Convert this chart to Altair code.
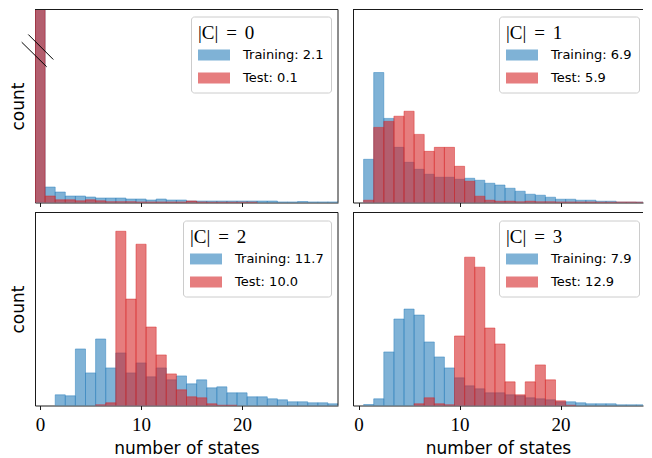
import altair as alt
import pandas as pd

# ---- data (bin centres 0..29, bar heights in relative count units) ----
bins = list(range(30))

c0_train = [600, 15.5, 10.5, 6.5, 6.5, 5.5, 4.5, 4.5, 4.5, 3.5, 3.5, 2.5, 3.5, 2.5, 2.5,
            1.5, 1.5, 1.5, 1.5, 1.5, 1.5, 1.5, 1.5, 1.5, 0.6, 0.6, 1.0, 0.6, 0.6, 0.6]
c0_test = [600, 6.5, 2.7, 2.7, 1.7, 2.7, 1.7, 0.8, 0.8, 0.8, 0.5, 0.5, 0.5, 0.5, 0.5,
           1.5, 0.5, 0.3, 0.3, 0.3, 0.3, 0.3, 0, 0, 0, 0, 0, 0, 0, 0]

c1_train = [0, 43.3, 130.3, 84.3, 55.3, 40.3, 33.3, 28.3, 25.3, 25.3, 23.3, 24.3, 22.3, 19.3, 17.5,
            14.3, 11.3, 8.3, 7.3, 5.3, 3.3, 3.3, 2.3, 2.3, 1.3, 1.3, 0.4, 0.4, 0.4, 0.4]
c1_test = [0, 2.3, 75.3, 81.3, 86.5, 91.5, 68.3, 51.3, 55.3, 55.3, 36.3, 21.3, 6.3, 2.3, 1.3,
           1.3, 0.7, 1.3, 0.7, 0.7, 0.5, 0.5, 0.5, 0.5, 0.3, 0.3, 0.5, 0.5, 0.3, 0.3]

c2_train = [0, 0, 10.7, 9.7, 56.7, 32.7, 66.7, 37.7, 52.7, 32.7, 42.7, 28.7, 37.7, 25.7, 29.7,
            21.7, 25.7, 17.7, 18.7, 12.7, 12.7, 8.7, 8.7, 6.7, 5.7, 3.7, 3.7, 2.7, 2.7, 1.7]
c2_test = [0, 0, 0, 0, 0, 0, 0.7, 2.7, 174.7, 106.7, 161.7, 78.7, 50.7, 31.7, 15.7,
           8.7, 7.7, 1.7, 0.3, 0.3, 0, 0, 0, 0, 0, 0, 0, 0, 0, 0]

c3_train = [0, 1.0, 6.7, 53.7, 86.7, 96.7, 90.7, 63.7, 48.7, 37.7, 27.7, 19.7, 16.7, 12.7, 12.7,
            10.7, 9.7, 7.7, 6.7, 5.7, 3.7, 3.7, 2.7, 1.7, 1.7, 1.7, 0.7, 0.7, 0.7, 0.7]
c3_test = [0, 0, 0, 0, 0, 0, 1.7, 7.7, 1.7, 0.7, 69.7, 148.7, 138.7, 77.7, 61.7,
           23.7, 10.7, 23.7, 40.7, 25.7, 4.7, 0.3, 0, 0, 0, 0, 0, 0, 0, 0]

train_labels = ["Training: 2.1", "Training: 6.9", "Training: 11.7", "Training: 7.9"]
test_labels = ["Test: 0.1", "Test: 5.9", "Test: 10.0", "Test: 12.9"]
SP = "\u2004\u200a"
panel_titles = [f"|C|{SP}={SP}{k}" for k in range(4)]
x_ticks = [0, 10, 20]

train_series = [c0_train, c1_train, c2_train, c3_train]
test_series = [c0_test, c1_test, c2_test, c3_test]

BLUE = "#2a7fbb"
RED = "#d62728"
AX = "#1a1a1a"
SANS = "DejaVu Sans"
SERIF = "Liberation Serif"
PATCH = "M-1,-0.34H1V0.34H-1Z"

rows = []
for p in range(4):
    for lab, vals in ((train_labels[p], train_series[p]), (test_labels[p], test_series[p])):
        for b, v in zip(bins, vals):
            if v > 0:
                rows.append({"panel": p, "series": lab, "lo": b - 0.5, "hi": b + 0.5, "count": v})
df = pd.DataFrame(rows)
one = pd.DataFrame({"k": [0]})

H = 193
legend_pos = [(156, 7), (146, 7), (148, 8), (146, 8)]


def panel(p):
    left = p % 2 == 0
    bottom = p >= 2
    W = 303 if left else 290
    dom = [-0.5, 29.5] if left else [-0.55, 28.16]
    d = df[df.panel == p]
    cscale = alt.Scale(domain=[train_labels[p], test_labels[p]], range=[BLUE, RED])
    xaxis = alt.Axis(values=x_ticks, labels=bottom, format="d", grid=False,
                     tickSize=4, tickColor=AX, tickWidth=1, domainColor=AX, domainWidth=1,
                     labelFont=SERIF, labelFontSize=19, labelColor="black", labelPadding=6,
                     titleFont=SANS, titleFontSize=17, titleFontWeight="normal",
                     titleColor="black", titlePadding=6)
    yaxis = alt.Axis(ticks=False, labels=False, grid=False, domainColor=AX, domainWidth=1,
                     titleFont=SANS, titleFontSize=17, titleFontWeight="normal",
                     titleColor="black", titlePadding=8)
    lx, ly = legend_pos[p]
    legend = alt.Legend(title=panel_titles[p], orient="none", legendX=lx, legendY=ly,
                        symbolType=PATCH, symbolSize=1024, symbolStrokeWidth=0,
                        symbolOpacity=0.6, clipHeight=12, rowPadding=10, labelOffset=13,
                        titlePadding=6.5, padding=7, fillColor="white", strokeColor="#cccccc",
                        cornerRadius=3, labelFont=SANS, labelFontSize=13, labelColor="black",
                        labelLimit=300, titleFont=SERIF, titleFontSize=19,
                        titleFontWeight="normal", titleColor="black")
    bars = alt.Chart(d).mark_rect(clip=True, fillOpacity=0.6, strokeOpacity=0.6,
                                  strokeWidth=0.8).encode(
        x=alt.X("lo:Q", scale=alt.Scale(domain=dom, nice=False, zero=False), axis=xaxis,
                title="number of states" if bottom else None),
        x2="hi:Q",
        y=alt.Y("count:Q", scale=alt.Scale(domain=[0, 193.5], nice=False), axis=yaxis,
                title="count" if left else None),
        y2=alt.datum(0),
        color=alt.Color("series:N", scale=cscale, legend=legend),
        stroke=alt.Stroke("series:N", scale=cscale, legend=None),
    )
    layers = [bars]
    layers.append(alt.Chart(one).mark_rule(color=AX, strokeWidth=1).encode(
        x=alt.value(0), x2=alt.value(W), y=alt.value(0)))
    if left:
        layers.append(alt.Chart(one).mark_rule(color=AX, strokeWidth=1).encode(
            x=alt.value(W), y=alt.value(0), y2=alt.value(H)))
    if p == 0:
        for (xa, ya, xb, yb) in [(-6.7, 25, 18.3, 50), (-13.3, 32.7, 11.7, 57.3)]:
            layers.append(alt.Chart(one).mark_rule(color="black", strokeWidth=1).encode(
                x=alt.value(xa), y=alt.value(ya), x2=alt.value(xb), y2=alt.value(yb)))
    return alt.layer(*layers).properties(width=W, height=H)


chart = alt.concat(
    panel(0), panel(1), panel(2), panel(3),
    columns=2, spacing={"row": 10, "column": 15}, bounds="flush", align="each",
).resolve_scale(
    x="independent", y="independent", color="independent", stroke="independent"
).resolve_legend(
    color="independent", stroke="independent"
).properties(
    padding={"left": 1, "top": 0.5, "right": 0, "bottom": 0}
).configure_view(stroke=None, strokeWidth=0)

chart.save("out.html", embed_options={"renderer": "svg", "actions": False})
